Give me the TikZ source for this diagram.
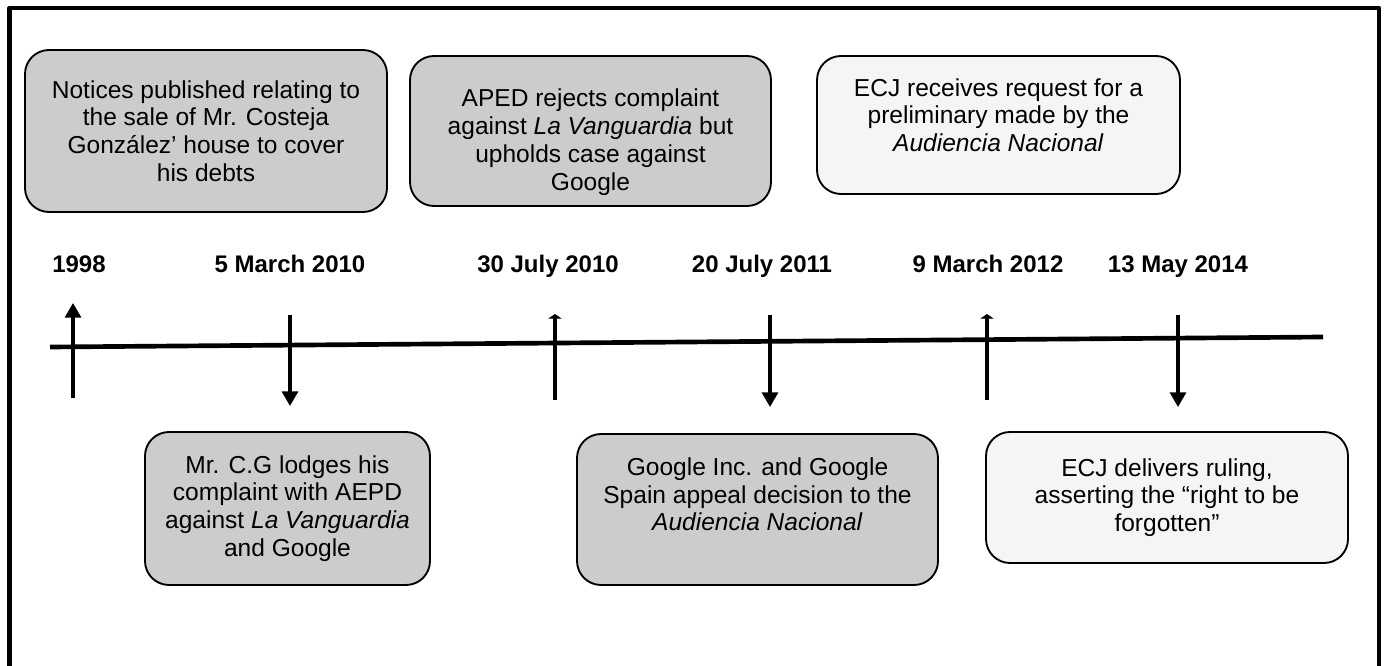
\documentclass[tikz,border=0pt]{standalone}
\usepackage{fontspec}
\setmainfont{Liberation Sans}
\usetikzlibrary{arrows.meta}
\newcommand\movetext[2]{\raisebox{#1}[\height][\depth]{\begin{tabular}{@{}c@{}}#2\end{tabular}}}
\begin{document}
\begin{tikzpicture}[x=0.75pt,y=-0.75pt,>={Triangle[length=11pt,width=12pt]},line join=round,
    event/.style={draw,line width=1.4pt,rounded corners=18pt,align=center,inner sep=0pt,font=\fontsize{18.4}{20.8}\selectfont},
    dark/.style={event,fill=black!20},
    light/.style={event,fill=black!4},
    date/.style={anchor=base,font=\fontsize{18}{20.5}\selectfont\bfseries},
    stem/.style={line width=2.4pt},
    stub/.style={stem,-{Triangle[length=3.5pt,width=10pt]}}]
  \useasboundingbox (0,0) rectangle (1387,666);
  \clip (0,0) rectangle (1387,666);
  % frame
  \draw[line width=3.5pt] (9.5,700)--(9.5,8)--(1379,8)--(1379,700);
  % events above the line
  \node[dark,minimum width=271.5pt,minimum height=121.5pt] (notices) at (206,131)
    {Notices published relating to\\the sale of Mr. Costeja\\González’ house to cover\\his debts};
  \node[dark,minimum width=270.75pt,minimum height=112.5pt] (aped) at (590.5,131)
    {\movetext{-9pt}{APED rejects complaint\\against \textit{La Vanguardia} but\\upholds case against\\Google}};
  \node[light,minimum width=272.25pt,minimum height=103.5pt] (request) at (998.5,125)
    {\movetext{5pt}{ECJ receives request for a\\preliminary made by the\\\textit{Audiencia Nacional}}};
  % dates
  \node[date] (d1998) at (79,273) {1998};
  \node[date] (dmar10) at (290,273) {5 March 2010};
  \node[date] (djul10) at (548,273) {30 July 2010};
  \node[date] (djul11) at (762,273) {20 July 2011};
  \node[date] (dmar12) at (988,273) {9 March 2012};
  \node[date] (dmay14) at (1178,273) {13 May 2014};
  % time line
  \coordinate (start) at (50,347);
  \coordinate (end) at (1323,337);
  \draw[line width=3.5pt] (start)--(end);
  \coordinate (a1998) at (73,398);   \coordinate (b1998) at (73,303);
  \coordinate (amar10) at (290,315); \coordinate (bmar10) at (290,406);
  \coordinate (ajul10) at (555,400); \coordinate (bjul10) at (555,314);
  \coordinate (ajul11) at (770,315); \coordinate (bjul11) at (770,407);
  \coordinate (amar12) at (987,400); \coordinate (bmar12) at (987,314);
  \coordinate (amay14) at (1178,315);\coordinate (bmay14) at (1178,407);
  \draw[stem,->] (a1998)--(b1998);
  \draw[stem,->] (amar10)--(bmar10);
  \draw[stub] (ajul10)--(bjul10);
  \draw[stem,->] (ajul11)--(bjul11);
  \draw[stub] (amar12)--(bmar12);
  \draw[stem,->] (amay14)--(bmay14);
  % events below the line
  \node[dark,minimum width=213.75pt,minimum height=114.75pt] (lodges) at (287.5,508.5)
    {Mr. C.G lodges his\\complaint with AEPD\\against \textit{La Vanguardia}\\and Google};
  \node[dark,minimum width=270.75pt,minimum height=113.25pt] (appeal) at (757.5,509.5)
    {\movetext{9pt}{Google Inc. and Google\\Spain appeal decision to the\\\textit{Audiencia Nacional}}};
  \node[light,minimum width=271.5pt,minimum height=98.25pt] (ruling) at (1167,497.5)
    {ECJ delivers ruling,\\asserting the “right to be\\forgotten”};
\end{tikzpicture}
\end{document}
